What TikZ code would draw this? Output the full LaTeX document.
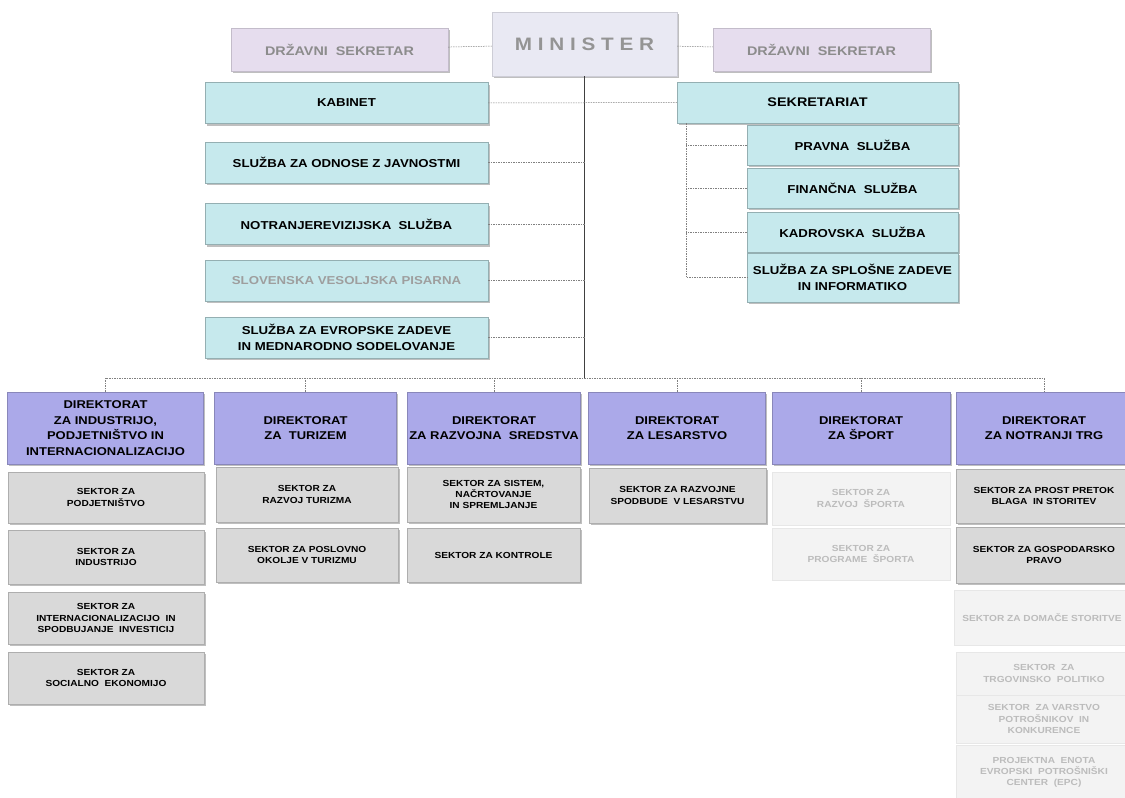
\documentclass[tikz,border=0pt]{standalone}
\usepackage{fontspec}
\setmainfont{Liberation Sans}
\newfontfamily\widefont{Liberation Sans}[FakeStretch=1.15]
\usepackage{xcolor}
\usetikzlibrary{positioning,shadows}
\definecolor{dsfill}{RGB}{230,221,238}
\definecolor{minfill}{RGB}{233,233,243}
\definecolor{cyanfill}{RGB}{198,233,237}
\definecolor{dirfill}{RGB}{171,169,233}
\definecolor{sekfill}{RGB}{217,217,217}
\definecolor{fadefill}{RGB}{243,243,243}
\definecolor{fadetext}{RGB}{188,188,188}

\begin{document}
\begin{tikzpicture}[x=1pt, y=-1pt,
    box/.style={inner sep=1pt, align=center, line width=0.4pt},
    shadowed/.style={drop shadow={shadow xshift=1.6pt, shadow yshift=-2.4pt, fill=black!50}},
    topbox/.style={box, shadowed, fill=dsfill, draw=dsfill!85!black, text=black!45,
        minimum width=217pt, minimum height=43pt, font=\widefont\bfseries\fontsize{12.5}{15}\selectfont},
    minbox/.style={box, shadowed, fill=minfill, draw=minfill!88!black, text=black!42,
        minimum width=185pt, minimum height=64pt, font=\widefont\bfseries\fontsize{18}{20}\selectfont},
    sluzba/.style={box, shadowed, fill=cyanfill, draw=cyanfill!75!black,
        minimum width=283pt, minimum height=41pt, font=\widefont\bfseries\fontsize{11.5}{16.5}\selectfont},
    subsluzba/.style={sluzba, minimum width=211pt, minimum height=40pt},
    dirbox/.style={box, shadowed, fill=dirfill, draw=dirfill!80!black, minimum height=72pt,
        font=\widefont\bfseries\fontsize{11.3}{15.5}\selectfont},
    sektor/.style={box, shadowed, fill=sekfill, draw=sekfill!80!black,
        font=\widefont\bfseries\fontsize{8.8}{11.3}\selectfont},
    faded/.style={box, fill=fadefill, draw=fadefill!95!black, text=fadetext,
        drop shadow={shadow xshift=0.8pt, shadow yshift=-1pt, fill=black!7},
        font=\widefont\bfseries\fontsize{8.8}{11.3}\selectfont},
    col1/.style={minimum width=196pt},
    col2/.style={minimum width=182pt},
    col3/.style={minimum width=173pt},
    col4/.style={minimum width=177pt},
    col5/.style={minimum width=178pt},
    col6/.style={minimum width=176pt},
    link/.style={gray, line width=0.5pt, dash pattern=on 1.5pt off 1pt},
    spine/.style={black!75, line width=0.8pt}]
    \useasboundingbox (0,0) rectangle (1125,798);

    % Minister and state secretaries
    \node [minbox] (minister) at (584.5,44) {M I N I S T E R};
    \node [topbox] (dsl) at (339.5,49.5) {DRŽAVNI\ \ SEKRETAR};
    \node [topbox] (dsr) at (821.5,49.5) {DRŽAVNI\ \ SEKRETAR};
    \draw [link] (dsl) -- (minister);
    \draw [link] (minister) -- (dsr);

    % Services under the minister
    \node [sluzba] (kabinet) at (346.5,103) {KABINET};
    \node [sluzba] (odnosi) at (346.5,162.5) {SLUŽBA ZA ODNOSE Z JAVNOSTMI};
    \node [sluzba] (revizija) at (346.5,224) {NOTRANJEREVIZIJSKA\ \ SLUŽBA};
    \node [sluzba, text=black!38] (vesolje) at (346.5,280.5) {SLOVENSKA VESOLJSKA PISARNA};
    \node [sluzba] (evropa) at (346.5,337.5) {SLUŽBA ZA EVROPSKE ZADEVE\\IN MEDNARODNO SODELOVANJE};

    % Secretariat
    \node [sluzba, minimum width=281pt, font=\widefont\bfseries\fontsize{12.5}{15}\selectfont] (sekretariat) at (817.5,102.5) {SEKRETARIAT};
    \node [subsluzba] (pravna) at (852.5,145) {PRAVNA\ \ SLUŽBA};
    \node [subsluzba] (financna) at (852.5,188) {FINANČNA\ \ SLUŽBA};
    \node [subsluzba] (kadrovska) at (852.5,232) {KADROVSKA\ \ SLUŽBA};
    \node [subsluzba, minimum height=49pt] (splosne) at (852.5,277.5) {SLUŽBA ZA SPLOŠNE ZADEVE\\IN INFORMATIKO};

    % Spine and bus
    \coordinate (bus) at (584.5,378);
    \draw [spine] (minister.south) -- (bus);
    \draw [link] (kabinet) -- (sekretariat);
    \foreach \n in {odnosi,revizija,vesolje,evropa}
        \draw [link] (\n.east) -- (\n.east -| bus);
    \coordinate (sk) at ([xshift=9pt]sekretariat.south west);
    \draw [link] (sk) |- (splosne.west);
    \foreach \n in {pravna,financna,kadrovska}
        \draw [link] (\n.west) -- (\n.west -| sk);

    % Directorates
    \node [dirbox, col1] (dirind) at (105.5,428) {DIREKTORAT\\ZA INDUSTRIJO,\\PODJETNIŠTVO IN\\INTERNACIONALIZACIJO};
    \node [dirbox, col2] (dirtur) at (305.5,428) {DIREKTORAT\\ZA\ \ TURIZEM};
    \node [dirbox, col3] (dirraz) at (494,428) {DIREKTORAT\\ZA RAZVOJNA\ \ SREDSTVA};
    \node [dirbox, col4] (dirles) at (677,428) {DIREKTORAT\\ZA LESARSTVO};
    \node [dirbox, col5] (dirspo) at (861,428) {DIREKTORAT\\ZA ŠPORT};
    \node [dirbox, col6] (dirtrg) at (1044,428) {DIREKTORAT\\ZA NOTRANJI TRG};
    \draw [link] (dirind.north) -- (dirind.north |- bus) -- (dirtrg.north |- bus) -- (dirtrg.north);
    \foreach \d in {dirtur,dirraz,dirles,dirspo}
        \draw [link] (\d.north) -- (\d.north |- bus);

    % Sectors
    \node [sektor, col1, minimum height=51pt] (sind1) at (106,497.5) {SEKTOR ZA\\PODJETNIŠTVO};
    \node [sektor, col1, minimum height=54pt] (sind2) at (106,557) {SEKTOR ZA\\INDUSTRIJO};
    \node [sektor, col1, minimum height=52pt] (sind3) at (106,618) {SEKTOR ZA\\INTERNACIONALIZACIJO\ \ IN\\SPODBUJANJE\ \ INVESTICIJ};
    \node [sektor, col1, minimum height=52pt] (sind4) at (106,678) {SEKTOR ZA\\SOCIALNO\ \ EKONOMIJO};

    \node [sektor, col2, minimum height=55pt] (stur1) at (307,494.5) {SEKTOR ZA\\RAZVOJ TURIZMA};
    \node [sektor, col2, minimum height=54pt] (stur2) at (307,555) {SEKTOR ZA POSLOVNO\\OKOLJE V TURIZMU};

    \node [sektor, col3, minimum height=55pt] (sraz1) at (493.5,494.5) {SEKTOR ZA SISTEM,\\NAČRTOVANJE\\IN SPREMLJANJE};
    \node [sektor, col3, minimum height=54pt] (sraz2) at (493.5,555) {SEKTOR ZA KONTROLE};

    \node [sektor, col4, minimum height=55pt] (sles1) at (677.5,495.5) {SEKTOR ZA RAZVOJNE\\SPODBUDE\ \ V LESARSTVU};

    \node [faded, col5, minimum height=53pt] (sspo1) at (861,498.5) {SEKTOR ZA\\RAZVOJ\ \ ŠPORTA};
    \node [faded, col5, minimum height=52pt] (sspo2) at (861,554) {SEKTOR ZA\\PROGRAME\ \ ŠPORTA};

    \node [sektor, col6, minimum height=54pt] (strg1) at (1044,496) {SEKTOR ZA PROST PRETOK\\BLAGA\ \ IN STORITEV};
    \node [sektor, col6, minimum height=56pt] (strg2) at (1044,555) {SEKTOR ZA GOSPODARSKO\\PRAVO};
    \node [faded, col6, minimum height=55pt] (strg3) at (1042,617.5) {SEKTOR ZA DOMAČE STORITVE};
    \node [faded, col6, minimum height=43pt] (strg4) at (1044,673.5) {SEKTOR\ \ ZA\\TRGOVINSKO\ \ POLITIKO};
    \node [faded, col6, minimum height=48pt] (strg5) at (1044,719) {SEKTOR\ \ ZA VARSTVO\\POTROŠNIKOV\ \ IN\\KONKURENCE};
    \node [faded, col6, minimum height=55pt] (strg6) at (1044,772.5) {PROJEKTNA\ \ ENOTA\\EVROPSKI\ \ POTROŠNIŠKI\\CENTER\ \ (EPC)};
\end{tikzpicture}
\end{document}
